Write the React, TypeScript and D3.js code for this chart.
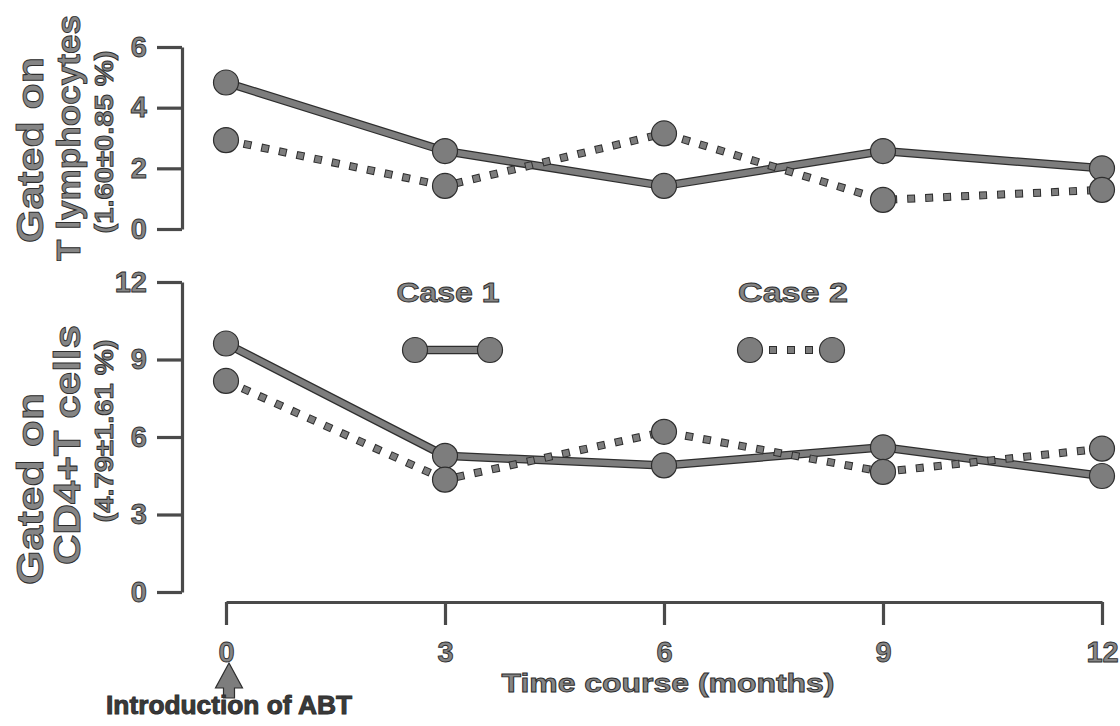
import React, { useEffect, useRef } from 'react';
import * as d3 from 'd3';

// --- Data ---
const months = [0, 3, 6, 9, 12];
const tCellCase1 = [4.83, 2.57, 1.42, 2.57, 2.0];
const tCellCase2 = [2.93, 1.42, 3.15, 0.96, 1.29];
const cd4Case1 = [9.62, 5.27, 4.9, 5.6, 4.49];
const cd4Case2 = [8.17, 4.35, 6.2, 4.65, 5.55];
const topTicks = [0, 2, 4, 6];
const bottomTicks = [0, 3, 6, 9, 12];
const xTicks = [0, 3, 6, 9, 12];
const caseNames = ['Case 1', 'Case 2'];

const INK = '#2e2e2e';
const GRAY = '#7d7d7d';
const FONT = '"Liberation Sans", Arial, Helvetica, sans-serif';

const App = () => {
  const ref = useRef<SVGSVGElement | null>(null);

  useEffect(() => {
    if (!ref.current) return;
    const svg = d3.select(ref.current);
    svg.selectAll('*').remove();

    const x = d3.scaleLinear().domain([0, 12]).range([226, 1102]);
    const yTop = d3.scaleLinear().domain([0, 6]).range([229, 47]);
    const yBot = d3.scaleLinear().domain([0, 12]).range([592, 282]);

    const styleText = (sel: any) =>
      sel.attr('fill', '#858585').attr('stroke', INK).attr('stroke-width', 0.9)
        .style('font-family', FONT).style('font-weight', 'bold');

    const styleAxis = (g: any) => {
      g.selectAll('path, line').attr('stroke', '#4a4a4a').attr('stroke-width', 3.2);
      g.selectAll('text').call(styleText).style('font-size', '29px');
    };

    // y axes
    const axTop = svg.append('g').attr('transform', 'translate(182,0)')
      .call(d3.axisLeft(yTop).tickValues(topTicks).tickSizeInner(25).tickSizeOuter(0).tickPadding(10).tickFormat(d3.format('d')));
    styleAxis(axTop);
    const axBot = svg.append('g').attr('transform', 'translate(182,0)')
      .call(d3.axisLeft(yBot).tickValues(bottomTicks).tickSizeInner(25).tickSizeOuter(0).tickPadding(10).tickFormat(d3.format('d')));
    styleAxis(axBot);

    // x axis
    const axX = svg.append('g').attr('transform', 'translate(0,602)')
      .call(d3.axisBottom(x).tickValues(xTicks).tickSizeInner(23).tickSizeOuter(0).tickPadding(16).tickFormat(d3.format('d')));
    styleAxis(axX);

    // series
    const drawSeries = (vals: number[], y: any, dotted: boolean) => {
      const pts = months.map((m, i) => [x(m), y(vals[i])] as [number, number]);
      const line = d3.line();
      if (dotted) {
        svg.append('path').attr('d', line(pts)).attr('fill', 'none')
          .attr('stroke', INK).attr('stroke-width', 8).attr('stroke-dasharray', '8 10');
        svg.append('path').attr('d', line(pts)).attr('fill', 'none')
          .attr('stroke', GRAY).attr('stroke-width', 6).attr('stroke-dasharray', '6 12').attr('stroke-dashoffset', -1);
      } else {
        svg.append('path').attr('d', line(pts)).attr('fill', 'none')
          .attr('stroke', INK).attr('stroke-width', 8.5).attr('stroke-linejoin', 'round');
        svg.append('path').attr('d', line(pts)).attr('fill', 'none')
          .attr('stroke', GRAY).attr('stroke-width', 6).attr('stroke-linejoin', 'round');
      }
      return pts;
    };
    const allPts = [
      ...drawSeries(tCellCase1, yTop, false),
      ...drawSeries(tCellCase2, yTop, true),
      ...drawSeries(cd4Case1, yBot, false),
      ...drawSeries(cd4Case2, yBot, true),
    ];
    svg.selectAll('circle.pt').data(allPts).enter().append('circle')
      .attr('class', 'pt').attr('cx', d => d[0]).attr('cy', d => d[1]).attr('r', 12.5)
      .attr('fill', GRAY).attr('stroke', INK).attr('stroke-width', 1.2);

    // legend
    const legendX = [[415, 490], [750, 832]];
    const legendTextX = [448, 793];
    caseNames.forEach((name, i) => {
      svg.append('text').attr('x', legendTextX[i]).attr('y', 302).attr('text-anchor', 'middle')
        .attr('textLength', i === 0 ? 103 : 110).attr('lengthAdjust', 'spacingAndGlyphs')
        .style('font-size', '27px').call(styleText).text(name);
      const [a, b] = legendX[i];
      const seg: [number, number][] = [[a, 350], [b, 350]];
      if (i === 0) {
        svg.append('path').attr('d', d3.line()(seg)).attr('stroke', INK).attr('stroke-width', 8.5);
        svg.append('path').attr('d', d3.line()(seg)).attr('stroke', GRAY).attr('stroke-width', 6);
      } else {
        svg.append('path').attr('d', d3.line()(seg)).attr('stroke', INK).attr('stroke-width', 8)
          .attr('stroke-dasharray', '8 10').attr('stroke-dashoffset', -1);
        svg.append('path').attr('d', d3.line()(seg)).attr('stroke', GRAY).attr('stroke-width', 6)
          .attr('stroke-dasharray', '6 12').attr('stroke-dashoffset', -2);
      }
      [a, b].forEach(cx => svg.append('circle').attr('cx', cx).attr('cy', 350).attr('r', 12.5)
        .attr('fill', GRAY).attr('stroke', INK).attr('stroke-width', 1.2));
    });

    // rotated y labels
    const yLabels = [
      { text: 'Gated on', x: 43, y: 150, size: 37, len: 186 },
      { text: 'T lymphocytes', x: 80, y: 138, size: 34, len: 246 },
      { text: '(1.60\u00b10.85 %)', x: 113, y: 142, size: 25, len: 183 },
      { text: 'Gated on', x: 43, y: 489, size: 37, len: 192 },
      { text: 'CD4+T cells', x: 80, y: 445, size: 37, len: 240 },
      { text: '(4.79\u00b11.61 %)', x: 113, y: 431, size: 25, len: 183 },
    ];
    yLabels.forEach(l => {
      svg.append('text').attr('transform', `translate(${l.x},${l.y}) rotate(-90)`)
        .attr('text-anchor', 'middle').attr('textLength', l.len).attr('lengthAdjust', 'spacingAndGlyphs')
        .style('font-size', `${l.size}px`).call(styleText).text(l.text);
    });

    // x label
    svg.append('text').attr('x', 668).attr('y', 692).attr('text-anchor', 'middle')
      .attr('textLength', 333).attr('lengthAdjust', 'spacingAndGlyphs')
      .style('font-size', '26px').call(styleText).text('Time course (months)');

    // arrow + annotation
    const ax = x(0) + 3;
    const arrow: [number, number][] = [
      [ax, 663], [ax + 13.5, 688], [ax + 5.5, 688], [ax + 5.5, 698],
      [ax - 5.5, 698], [ax - 5.5, 688], [ax - 13.5, 688],
    ];
    svg.append('path').attr('d', d3.line()(arrow) + 'Z').attr('fill', GRAY).attr('stroke', INK).attr('stroke-width', 1.2);
    svg.append('text').attr('x', ax).attr('y', 714).attr('text-anchor', 'middle')
      .attr('textLength', 246).attr('lengthAdjust', 'spacingAndGlyphs')
      .style('font-size', '25px').call(styleText).attr('fill', '#3a3a3a').text('Introduction of ABT');
  }, []);

  return (
    <svg ref={ref} width={1120} height={726}
      style={{ position: 'absolute', left: 0, top: 0, background: '#fff', display: 'block' }} />
  );
};

export default App;
